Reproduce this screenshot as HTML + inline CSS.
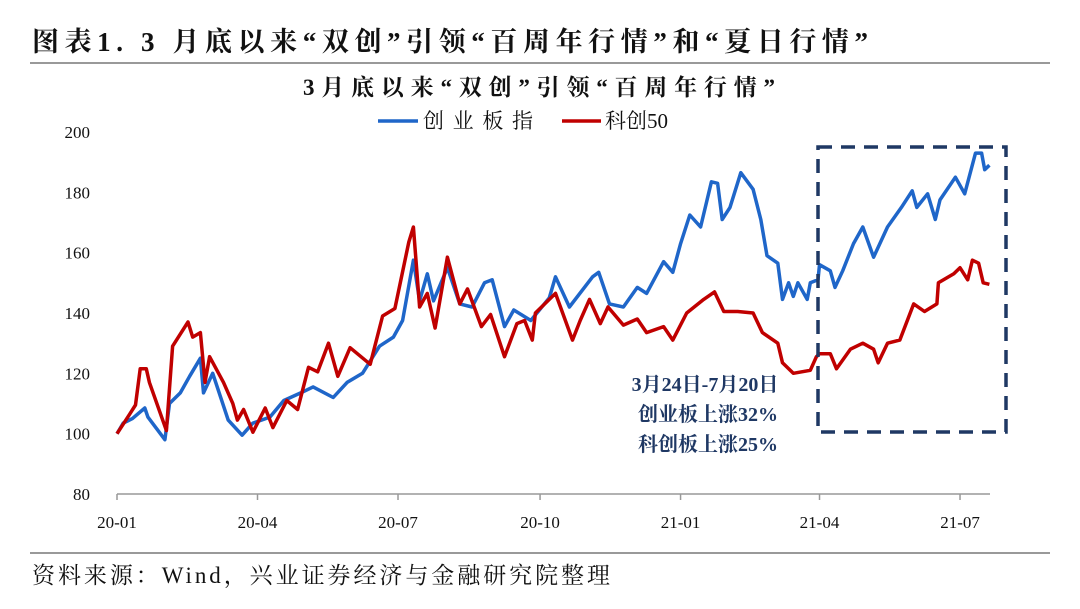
<!DOCTYPE html>
<html><head><meta charset="utf-8"><style>
body{margin:0;background:#fff;width:1080px;height:604px;overflow:hidden;font-family:"Liberation Serif","Noto Serif CJK SC",serif}
</style></head><body>
<svg width="1080" height="604" xmlns="http://www.w3.org/2000/svg">
<text x="32" y="51" font-size="27" font-weight="bold" fill="#111" textLength="836" lengthAdjust="spacing">图表1. 3 月底以来“双创”引领“百周年行情”和“夏日行情”</text>
<line x1="30" y1="63" x2="1050" y2="63" stroke="#333" stroke-width="1"/>
<text x="303" y="95" font-size="23" font-weight="bold" fill="#111" textLength="472" lengthAdjust="spacing">3月底以来“双创”引领“百周年行情”</text>
<g>
<line x1="378" y1="121" x2="418" y2="121" stroke="#1f66c9" stroke-width="3.5"/>
<text x="423" y="128" font-size="21" fill="#111" textLength="110" lengthAdjust="spacing">创业板指</text>
<line x1="562" y1="121" x2="601" y2="121" stroke="#c00000" stroke-width="3.5"/>
<text x="605" y="128" font-size="21" fill="#111">科创50</text>
</g>
<g id="axes"></g>
<g id="series"></g>
<rect x="818" y="147" width="188" height="285" fill="none" stroke="#1f3864" stroke-width="3.5" stroke-dasharray="14 9"/>
<g font-size="20" font-weight="bold" fill="#1f3864" text-anchor="middle">
<text x="705" y="391">3月24日-7月20日</text>
<text x="708" y="421">创业板上涨32%</text>
<text x="708" y="451">科创板上涨25%</text>
</g>
<line x1="30" y1="553" x2="1050" y2="553" stroke="#333" stroke-width="1"/>
<text x="32" y="583" font-size="23" fill="#111" textLength="578" lengthAdjust="spacing">资料来源：Wind，兴业证券经济与金融研究院整理</text>
</svg>
<script>
const yTicks=[80,100,120,140,160,180,200];
const xTickDays=[0,91,182,274,365,455,546];
const xTickLabels=["20-01","20-04","20-07","20-10","21-01","21-04","21-07"];
const cybDays=[0,4,10,18,20,31,34,41,47,54,56,62,72,81,88,99,108,119,127,140,149,159,170,179,185,192,196,201,205,214,222,230,238,243,251,257,268,280,284,293,308,312,319,328,337,343,354,360,365,371,378,385,389,392,397,404,412,417,421,428,431,435,438,441,447,449,454,455,462,465,470,477,483,490,499,508,515,518,525,530,533,543,549,556,560,562,565];
const cybVals=[100,103.5,105,108.5,105.5,98,110,113.5,119,125,113.5,120,104.5,99.5,103.5,105.5,111,113.5,115.5,112,117,120,129,132,137.5,157.5,144,153,144,155,143,142,150,151,135.5,141,137.5,145,152,142,152,153.5,143,142,148.5,146.5,157,153.5,163,172.5,168.5,183.5,183,171,175,186.5,181,171,159,156.5,144.5,150,145.5,150,144.5,150,151,156,154,148.5,154,163,168.5,158.5,168.5,175,180.5,175,179.5,171,177.5,185,179.5,193,193,187.5,189];
const kcDays=[0,7,12,15,19,21,32,36,41,46,49,54,57,60,69,75,78,82,88,96,101,110,117,124,130,137,143,151,164,172,180,189,192,196,201,206,214,222,227,236,242,251,259,264,269,271,280,284,295,300,306,313,318,328,337,343,354,360,369,380,387,393,402,412,418,428,431,438,449,453,455,462,466,475,483,490,493,499,507,516,523,531,532,542,546,551,554,558,561,565];
const kcVals=[100,105.5,109.5,121.5,121.5,117,101,129,133,137,132,133.5,117,125.5,117,110,104.5,108,100.5,108.5,102,111,108,122,120.5,130,119,128.5,123,139,141.5,163.5,168.5,142,146.5,135,158.5,143,148,135.5,139.5,125.5,136.5,137.5,131,140,144.5,146.5,131,137.5,144.5,136.5,142,136,138,133.5,135.5,131,140,144.5,147,140.5,140.5,140,133.5,130,123.5,120,121,125.5,126.5,126.5,121.5,128,130,128,123.5,130,131,143,140.5,143,150,153,155,151,157.5,156.5,150,149.5];
const NS="http://www.w3.org/2000/svg";
const X=d=>117+d*1.544;
const Y=v=>494-(v-80)*3.0167;
const axes=document.getElementById('axes');
function mk(tag,attrs,parent){const e=document.createElementNS(NS,tag);for(const k in attrs)e.setAttribute(k,attrs[k]);parent.appendChild(e);return e;}
yTicks.forEach(v=>{
  const t=mk('text',{x:90,y:Y(v)+6,'font-size':17,'text-anchor':'end',fill:'#111'},axes);
  t.textContent=v;
  
  
});
const ax=mk('line',{x1:117,y1:494,x2:990,y2:494,stroke:'#999','stroke-width':1.5},axes);


xTickDays.forEach((d,i)=>{
  const tk=mk('line',{x1:X(d),y1:494,x2:X(d),y2:500,stroke:'#999','stroke-width':1.5},axes);
  
  
  const t=mk('text',{x:X(d),y:528,'font-size':17,'text-anchor':'middle',fill:'#111'},axes);
  t.textContent=xTickLabels[i];
  
  
});
const sg=document.getElementById('series');
function line(days,vals,color,name){
  const d=days.map((x,i)=>(i?'L':'M')+X(x).toFixed(1)+','+Y(vals[i]).toFixed(1)).join('');
  const p=mk('path',{d:d,fill:'none',stroke:color,'stroke-width':3.5,'stroke-linejoin':'round'},sg);
  
  
}
line(cybDays,cybVals,'#1f66c9','cyb-line');
line(kcDays,kcVals,'#c00000','kc50-line');
</script>
</body></html>
